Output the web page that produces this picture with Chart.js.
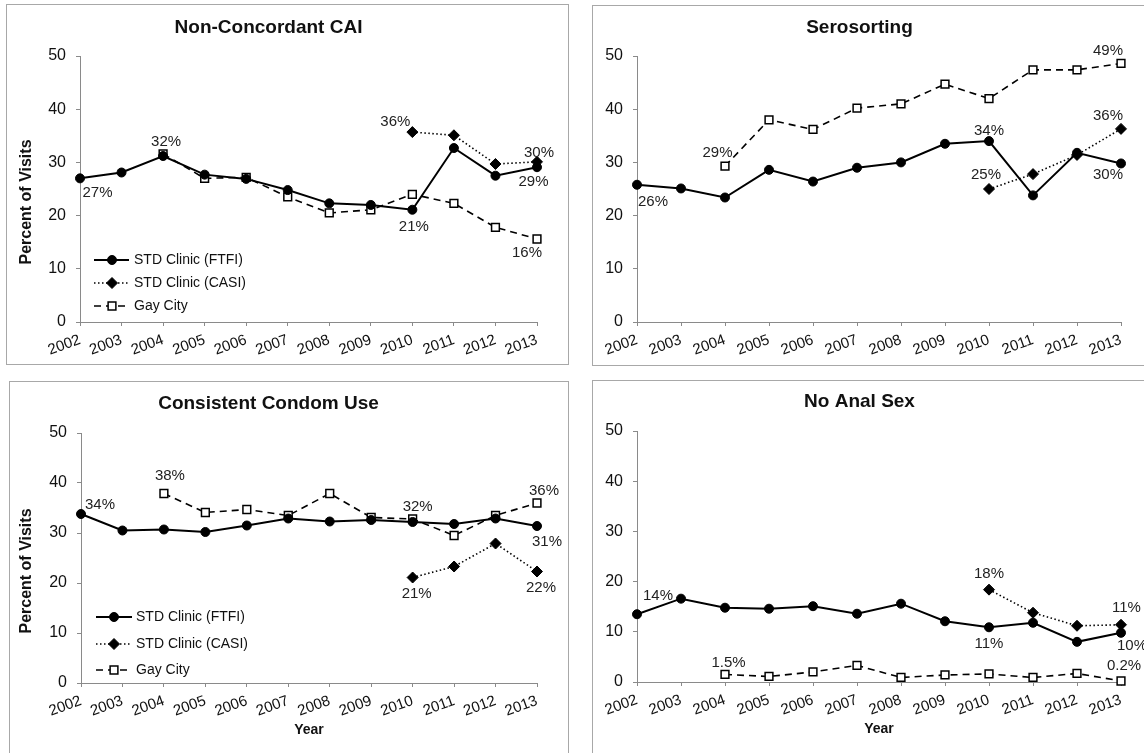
<!DOCTYPE html>
<html>
<head>
<meta charset="utf-8">
<title>Risk behaviour trends</title>
<script src="https://cdn.jsdelivr.net/npm/chart.js@4.4.1/dist/chart.umd.min.js"></script>
<style>
  body { margin: 0; background: #fff; }
  #page { position: relative; width: 1144px; height: 753px; overflow: hidden; }
  .frame { position: absolute; border: 1px solid #a8a8a8; box-sizing: border-box; }
  canvas { position: absolute; }
</style>
</head>
<body>
<div id="page">
  <div class="frame" style="left:6px;top:4px;width:563px;height:361px"></div>
  <div class="frame" style="left:592px;top:5px;width:570px;height:361px"></div>
  <div class="frame" style="left:9px;top:381px;width:560px;height:390px"></div>
  <div class="frame" style="left:592px;top:380px;width:570px;height:390px"></div>
  <canvas id="c1" width="555" height="360" style="left:0;top:5px"></canvas>
  <canvas id="c2" width="546" height="360" style="left:598px;top:5px"></canvas>
  <canvas id="c3" width="578" height="372" style="left:0;top:381px"></canvas>
  <canvas id="c4" width="546" height="373" style="left:598px;top:380px"></canvas>
</div>
<script>
// data (percent of visits)
const years = ['2002', '2003', '2004', '2005', '2006', '2007', '2008', '2009', '2010', '2011', '2012', '2013'];
const seriesNames = ['STD Clinic (FTFI)', 'STD Clinic (CASI)', 'Gay City'];
const yTicks = [0, 10, 20, 30, 40, 50];

const ncaiFtfi = [27.0, 28.1, 31.2, 27.7, 26.9, 24.8, 22.3, 22.0, 21.1, 32.7, 27.5, 29.1];
const ncaiCasi = [null, null, null, null, null, null, null, null, 35.7, 35.1, 29.7, 30.1];
const ncaiGay = [null, null, 31.6, 27.0, 27.2, 23.5, 20.5, 21.1, 24.0, 22.3, 17.8, 15.6];

const seroFtfi = [25.8, 25.1, 23.4, 28.6, 26.4, 29.0, 30.0, 33.5, 34.0, 23.8, 31.8, 29.8];
const seroCasi = [null, null, null, null, null, null, null, null, 25.0, 27.8, 31.4, 36.3];
const seroGay = [null, null, 29.3, 38.0, 36.2, 40.2, 41.0, 44.7, 42.0, 47.4, 47.4, 48.6];

const ccuFtfi = [33.8, 30.5, 30.7, 30.2, 31.5, 32.9, 32.3, 32.6, 32.2, 31.8, 32.9, 31.4];
const ccuCasi = [null, null, null, null, null, null, null, null, 21.1, 23.3, 27.9, 22.3];
const ccuGay = [null, null, 37.9, 34.1, 34.7, 33.5, 37.9, 33.1, 32.8, 29.5, 33.5, 36.0];

const nasFtfi = [13.5, 16.6, 14.8, 14.6, 15.1, 13.6, 15.6, 12.1, 10.9, 11.8, 8.0, 9.8];
const nasCasi = [null, null, null, null, null, null, null, null, 18.4, 13.8, 11.2, 11.4];
const nasGay = [null, null, 1.5, 1.1, 2.0, 3.3, 0.9, 1.4, 1.6, 0.9, 1.7, 0.2];

// point call-outs: [series, year index, text]
const ncaiCallouts = [[0, 0, '27%'], [0, 2, '32%'], [1, 8, '36%'], [0, 8, '21%'], [1, 11, '30%'], [0, 11, '29%'], [2, 11, '16%']];
const seroCallouts = [[0, 0, '26%'], [2, 2, '29%'], [0, 8, '34%'], [1, 8, '25%'], [2, 11, '49%'], [1, 11, '36%'], [0, 11, '30%']];
const ccuCallouts = [[0, 0, '34%'], [2, 2, '38%'], [2, 8, '32%'], [2, 11, '36%'], [0, 11, '31%'], [1, 8, '21%'], [1, 11, '22%']];
const nasCallouts = [[0, 0, '14%'], [1, 8, '18%'], [0, 8, '11%'], [1, 11, '11%'], [0, 11, '10%'], [2, 11, '0.2%'], [2, 2, '1.5%']];

Chart.defaults.font.family = '"Liberation Sans", Arial, sans-serif';
Chart.defaults.color = '#111';

const FONT = '"Liberation Sans", Arial, sans-serif';

function makeDatasets(ftfi, casi, gay) {
  return [
    {
      label: seriesNames[0], data: ftfi,
      borderColor: '#000', backgroundColor: '#000', borderWidth: 2,
      pointStyle: 'circle', pointRadius: 4.5, pointBorderWidth: 1, clip: false
    },
    {
      label: seriesNames[1], data: casi,
      borderColor: '#000', backgroundColor: '#000', borderWidth: 1.6, borderDash: [1.5, 2.5],
      pointStyle: 'rectRot', pointRadius: 5.5, pointBorderWidth: 1, clip: false
    },
    {
      label: seriesNames[2], data: gay,
      borderColor: '#000', backgroundColor: '#fff', borderWidth: 1.6, borderDash: [7, 5],
      pointStyle: 'rect', pointRadius: 5.5, pointBorderWidth: 1.5, clip: false
    }
  ];
}

// draws the call-out labels, the in-plot legend and the y axis title
function overlay(p) {
  return {
    id: 'overlay',
    afterDatasetsDraw(chart) {
      const ctx = chart.ctx;
      ctx.save();
      ctx.font = '15px ' + FONT;
      ctx.fillStyle = '#222';
      ctx.textAlign = 'center';
      ctx.textBaseline = 'middle';
      p.callouts.forEach(([ds, i, text], k) => {
        const pt = chart.getDatasetMeta(ds).data[i];
        ctx.fillText(text, pt.x + p.offsets[k][0], pt.y + p.offsets[k][1]);
      });
      if (p.yTitle) {
        const a = chart.chartArea;
        ctx.save();
        ctx.translate(27, (a.top + a.bottom) / 2 + 13);
        ctx.rotate(-Math.PI / 2);
        ctx.font = 'bold 16px ' + FONT;
        ctx.fillStyle = '#111';
        ctx.fillText('Percent of Visits', 0, 0);
        ctx.restore();
      }
      const legend = p.legend;
      if (legend) {
        ctx.font = '14px ' + FONT;
        ctx.textAlign = 'left';
        chart.data.datasets.forEach((d, k) => {
          const y = legend.rows[k];
          ctx.strokeStyle = '#000';
          ctx.lineWidth = d.borderWidth;
          ctx.setLineDash(d.borderDash || []);
          ctx.beginPath();
          ctx.moveTo(legend.x0, y);
          ctx.lineTo(legend.x1, y);
          ctx.stroke();
          ctx.setLineDash([]);
          ctx.fillStyle = d.backgroundColor;
          ctx.lineWidth = d.pointBorderWidth;
          Chart.helpers.drawPoint(ctx, {
            pointStyle: d.pointStyle, rotation: 0,
            radius: d.pointRadius, borderWidth: d.pointBorderWidth
          }, legend.xm, y);
          ctx.fillStyle = '#111';
          ctx.fillText(d.label, legend.xt, y);
        });
      }
      ctx.restore();
    }
  };
}

function makePanel(id, p) {
  const axisGrey = '#8a8a8a';
  new Chart(document.getElementById(id), {
    type: 'line',
    data: { labels: years, datasets: makeDatasets(p.ftfi, p.casi, p.gay) },
    options: {
      responsive: false,
      animation: false,
      layout: { padding: { left: 0, right: p.padRight, top: 0, bottom: 0 } },
      plugins: {
        legend: { display: false },
        tooltip: { enabled: false },
        title: {
          display: true, text: p.title, color: '#111',
          font: { size: 19, weight: 'bold' },
          padding: { top: p.titleTop, bottom: p.titleBottom }
        }
      },
      scales: {
        x: {
          offset: false,
          afterFit: s => { s.height = p.xHeight; },
          grid: { drawOnChartArea: false, drawTicks: true, tickLength: 4, color: axisGrey },
          border: { color: axisGrey, width: 1 },
          ticks: { autoSkip: false, minRotation: 20, maxRotation: 20, padding: 5, color: '#111', font: { size: 15 } },
          title: {
            display: p.xTitle, text: 'Year', color: '#111',
            font: { size: 14, weight: 'bold' }, padding: { top: 0, bottom: p.xTitlePad }
          }
        },
        y: {
          min: yTicks[0], max: yTicks[yTicks.length - 1],
          afterFit: s => { s.width = p.yWidth; },
          afterBuildTicks: s => { s.ticks = yTicks.map(v => ({ value: v })); },
          grid: { drawOnChartArea: false, drawTicks: true, tickLength: 4, color: axisGrey },
          border: { color: axisGrey, width: 1 },
          ticks: { padding: 10, color: '#111', font: { size: 16 } }
        }
      }
    },
    plugins: [overlay(p)]
  });
}

makePanel('c1', {
  title: 'Non-Concordant CAI', ftfi: ncaiFtfi, casi: ncaiCasi, gay: ncaiGay,
  yWidth: 80, padRight: 18, xHeight: 43, titleTop: 11.6, titleBottom: 16.6,
  yTitle: true, xTitle: false, xTitlePad: 0,
  callouts: ncaiCallouts,
  offsets: [[17.5, 14], [3, -14], [-17, -10], [1.5, 17], [2, -9], [-3.5, 15], [-10, 14]],
  legend: { rows: [255, 278, 301], x0: 94, x1: 129, xm: 112, xt: 134 }
});

makePanel('c2', {
  title: 'Serosorting', ftfi: seroFtfi, casi: seroCasi, gay: seroGay,
  yWidth: 39, padRight: 23, xHeight: 43, titleTop: 11.6, titleBottom: 16.6,
  yTitle: false, xTitle: false, xTitlePad: 0,
  callouts: seroCallouts,
  offsets: [[16, 17], [-7.5, -13], [0, -10], [-3, -14], [-13, -13], [-13, -13.5], [-13, 11]],
  legend: null
});

makePanel('c3', {
  title: 'Consistent Condom Use', ftfi: ccuFtfi, casi: ccuCasi, gay: ccuGay,
  yWidth: 81, padRight: 41, xHeight: 70, titleTop: 11.6, titleBottom: 17.6,
  yTitle: true, xTitle: true, xTitlePad: 14.6,
  callouts: ccuCallouts,
  offsets: [[19, -9], [6, -18], [5, -12], [7, -12], [10, 16], [4, 16], [4, 16.5]],
  legend: { rows: [236, 263, 289], x0: 96, x1: 132, xm: 114, xt: 136 }
});

makePanel('c4', {
  title: 'No Anal Sex', ftfi: nasFtfi, casi: nasCasi, gay: nasGay,
  yWidth: 39, padRight: 23, xHeight: 71, titleTop: 10.6, titleBottom: 17.6,
  yTitle: false, xTitle: true, xTitlePad: 15.6,
  callouts: nasCallouts,
  offsets: [[21, -18.5], [0, -15.5], [0, 17], [5.5, -17], [11, 13.5], [3, -15], [3.5, -11.5]],
  legend: null
});
</script>
</body>
</html>
